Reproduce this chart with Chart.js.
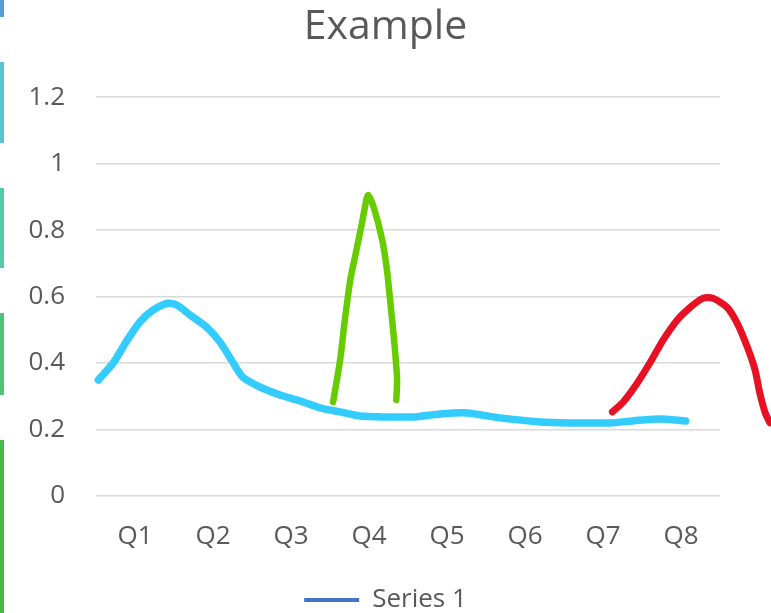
<!DOCTYPE html>
<html>
<head>
<meta charset="utf-8">
<script src="https://cdn.jsdelivr.net/npm/chart.js@4/dist/chart.umd.min.js"></script>
<style>
  html, body { margin: 0; padding: 0; background: #ffffff; }
  #wrap { position: relative; width: 771px; height: 613px; overflow: hidden; }
  #chart { position: absolute; left: 0; top: 0; }
  .tab { position: absolute; left: 0; width: 4px; }
</style>
</head>
<body>
<div id="wrap">
  <div class="tab" style="top:0;height:17px;background:#5b9bd5"></div>
  <div class="tab" style="top:62px;height:81px;background:#5bc4d4"></div>
  <div class="tab" style="top:188px;height:80px;background:#55c9a9"></div>
  <div class="tab" style="top:313px;height:82px;background:#52c27a"></div>
  <div class="tab" style="top:440px;height:173px;background:#4cb84a"></div>
  <canvas id="chart" width="771" height="613"></canvas>
</div>
<script>
// Quarter labels along the bottom axis
const categories = ['Q1', 'Q2', 'Q3', 'Q4', 'Q5', 'Q6', 'Q7', 'Q8'];

// Value axis range
const yMin = 0;
const yMax = 1.2;
const yStep = 0.2;

// The named series shown in the legend (no points plotted)
const seriesOne = [];

// Freehand strokes, x in quarter units (Q1 centred at 0.5), y in values
const blueX = [0.03, 0.22, 0.40, 0.56, 0.73, 0.92, 1.04, 1.21, 1.42, 1.59, 1.76, 1.88, 2.10, 2.36, 2.62, 2.87, 3.13, 3.38, 3.71, 4.09, 4.41, 4.76, 5.18, 5.69, 6.08, 6.59, 6.88, 7.23, 7.56];
const blueY = [0.349, 0.400, 0.469, 0.523, 0.559, 0.580, 0.574, 0.544, 0.508, 0.463, 0.400, 0.358, 0.328, 0.304, 0.286, 0.265, 0.253, 0.241, 0.238, 0.238, 0.247, 0.250, 0.235, 0.223, 0.220, 0.220, 0.226, 0.232, 0.226];

const greenX = [3.04, 3.13, 3.19, 3.26, 3.32, 3.41, 3.47, 3.49, 3.56, 3.67, 3.73, 3.78, 3.83, 3.86, 3.85];
const greenY = [0.283, 0.409, 0.529, 0.650, 0.719, 0.821, 0.896, 0.905, 0.869, 0.770, 0.680, 0.568, 0.448, 0.349, 0.289];

const redX = [6.62, 6.76, 6.94, 7.10, 7.27, 7.45, 7.62, 7.78, 7.91, 8.09, 8.22, 8.35, 8.45, 8.51, 8.58, 8.64];
const redY = [0.253, 0.283, 0.340, 0.400, 0.469, 0.529, 0.568, 0.595, 0.595, 0.568, 0.520, 0.448, 0.379, 0.310, 0.250, 0.220];

const toPoints = (xs, ys) => xs.map((x, i) => ({ x: x, y: ys[i] }));

const textColor = '#595959';
const fontFamily = '"Open Sans", "Liberation Sans", sans-serif';

function stroke(xs, ys, color, width) {
  return {
    label: '',
    data: toPoints(xs, ys),
    borderColor: color,
    backgroundColor: color,
    borderWidth: width,
    borderCapStyle: 'round',
    borderJoinStyle: 'round',
    pointRadius: 0,
    pointHoverRadius: 0,
    tension: 0.25,
    clip: false
  };
}

new Chart(document.getElementById('chart'), {
  type: 'line',
  data: {
    datasets: [
      {
        label: 'Series 1',
        data: seriesOne,
        borderColor: '#4472c4',
        backgroundColor: '#4472c4',
        borderWidth: 0,
        pointRadius: 0
      },
      stroke(blueX, blueY, '#33ccff', 7.5),
      stroke(greenX, greenY, '#66cc00', 6.5),
      stroke(redX, redY, '#e81123', 7)
    ]
  },
  options: {
    responsive: false,
    devicePixelRatio: 1,
    animation: false,
    events: [],
    layout: { padding: { left: 0, right: 0, top: 0, bottom: -10 } },
    plugins: {
      title: {
        display: true,
        text: 'Example',
        color: textColor,
        font: { family: fontFamily, size: 41, weight: 'normal' },
        padding: { top: 3, bottom: 45 }
      },
      legend: {
        position: 'bottom',
        labels: {
          filter: (item) => item.text === 'Series 1',
          color: textColor,
          font: { family: fontFamily, size: 26 },
          boxWidth: 55,
          boxHeight: 4,
          padding: 8
        }
      },
      tooltip: { enabled: false }
    },
    scales: {
      x: {
        type: 'linear',
        bounds: 'data',
        // range fixed here (not via min/max) so strokes running past the last quarter still draw
        afterDataLimits: (scale) => { scale.min = 0; scale.max = categories.length; },
        afterBuildTicks: (scale) => {
          scale.ticks = categories.map((c, i) => ({ value: i + 0.5 }));
        },
        afterFit: (scale) => { scale.height = 83; },
        grid: { display: false, drawTicks: false, tickLength: 0 },
        border: { display: false },
        ticks: {
          autoSkip: false,
          maxRotation: 0,
          padding: 25,
          color: textColor,
          font: { family: fontFamily, size: 26 },
          callback: (value, index) => categories[index]
        }
      },
      y: {
        min: yMin,
        max: yMax,
        afterFit: (scale) => { scale.width = 96; },
        grid: { color: '#d9d9d9', lineWidth: 1.5, drawTicks: false, tickLength: 0 },
        border: { display: false },
        ticks: {
          stepSize: yStep,
          padding: 31,
          color: textColor,
          font: { family: fontFamily, size: 26 },
          callback: (value) => String(Math.round(value * 10) / 10)
        }
      },
      yRight: {
        position: 'right',
        display: true,
        afterFit: (scale) => { scale.width = 51; },
        grid: { display: false, drawTicks: false },
        border: { display: false },
        ticks: { display: false }
      }
    }
  }
});
</script>
</body>
</html>
